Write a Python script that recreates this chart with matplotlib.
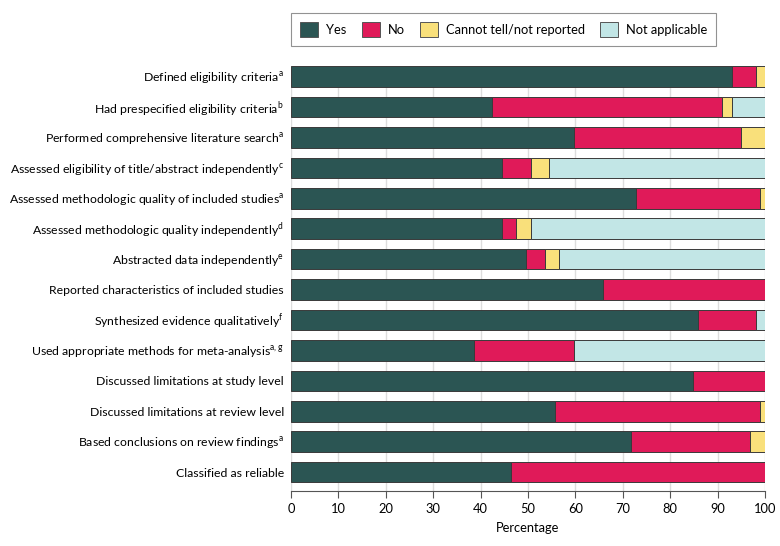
import matplotlib
matplotlib.use('Agg')
import matplotlib.pyplot as plt
import matplotlib.patches as mpatches
import numpy as np

plt.rcParams['font.family'] = ['Lato', 'DejaVu Sans']
plt.rcParams['mathtext.fontset'] = 'custom'
plt.rcParams['mathtext.rm'] = 'Lato'

FS = 8.8

# items, top to bottom
items = [
    r"Defined eligibility criteria$^{\rm a}$",
    r"Had prespecified eligibility criteria$^{\rm b}$",
    r"Performed comprehensive literature search$^{\rm a}$",
    r"Assessed eligibility of title/abstract independently$^{\rm c}$",
    r"Assessed methodologic quality of included studies$^{\rm a}$",
    r"Assessed methodologic quality independently$^{\rm d}$",
    r"Abstracted data independently$^{\rm e}$",
    "Reported characteristics of included studies",
    r"Synthesized evidence qualitatively$^{\rm f}$",
    r"Used appropriate methods for meta-analysis$^{\rm a,g}$",
    "Discussed limitations at study level",
    "Discussed limitations at review level",
    r"Based conclusions on review findings$^{\rm a}$",
    "Classified as reliable",
]

# percentages per category
yes = [93.0, 42.4, 59.6, 44.4, 72.7, 44.4, 49.5, 65.8, 85.9, 38.5, 84.8, 55.6, 71.7, 46.5]
no = [5.1, 48.5, 35.3, 6.2, 26.2, 3.1, 4.0, 34.2, 12.1, 21.1, 15.2, 43.3, 25.2, 53.5]
cannot_tell = [1.9, 2.1, 5.1, 3.9, 1.1, 3.1, 3.1, 0, 0, 0, 0, 1.1, 3.1, 0]
not_applicable = [0, 7.0, 0, 45.5, 0, 49.4, 43.4, 0, 2.0, 40.4, 0, 0, 0, 0]

series = [
    ('Yes', yes, '#2b5553'),
    ('No', no, '#e01a59'),
    ('Cannot tell/not reported', cannot_tell, '#f9e07b'),
    ('Not applicable', not_applicable, '#c2e6e6'),
]

fig = plt.figure(figsize=(7.8, 5.46), dpi=100)
ax = fig.add_axes([0.373, 0.1007, 0.608, 0.778])

y = np.arange(len(items))
left = np.zeros(len(items))
for name, vals, col in series:
    vals = np.array(vals)
    ax.barh(y, vals, left=left, height=0.68, color=col, edgecolor='#3a3a3a',
            linewidth=0.7, zorder=3)
    left += vals

ax.set_yticks(y)
ax.set_yticklabels(items, fontsize=FS)
ax.set_ylim(len(items) - 0.38, -0.34)
ax.set_xlim(0, 100)
ax.set_xticks(np.arange(0, 101, 10))
ax.tick_params(axis='x', labelsize=FS + 0.5, length=5, color='#555555')
ax.tick_params(axis='y', length=0, pad=5)
ax.set_xlabel('Percentage', fontsize=FS + 0.5, labelpad=5)
ax.grid(axis='x', color='#dddddd', linewidth=1, zorder=0)

for s in ['top', 'right', 'left']:
    ax.spines[s].set_visible(False)
ax.spines['bottom'].set_color('#555555')

handles = [mpatches.Patch(facecolor=c, edgecolor='#555555', linewidth=0.7, label=n)
           for n, _, c in series]
leg = fig.legend(handles=handles, loc='upper left', bbox_to_anchor=(0.373, 0.976),
                 ncol=4, fontsize=FS + 0.5, frameon=True, fancybox=False,
                 borderaxespad=0, handlelength=1.4, handleheight=1.4,
                 columnspacing=1.2, handletextpad=0.6, borderpad=0.7)
leg.get_frame().set_edgecolor('#777777')
leg.get_frame().set_linewidth(0.8)

plt.savefig('out.png', dpi=100)
